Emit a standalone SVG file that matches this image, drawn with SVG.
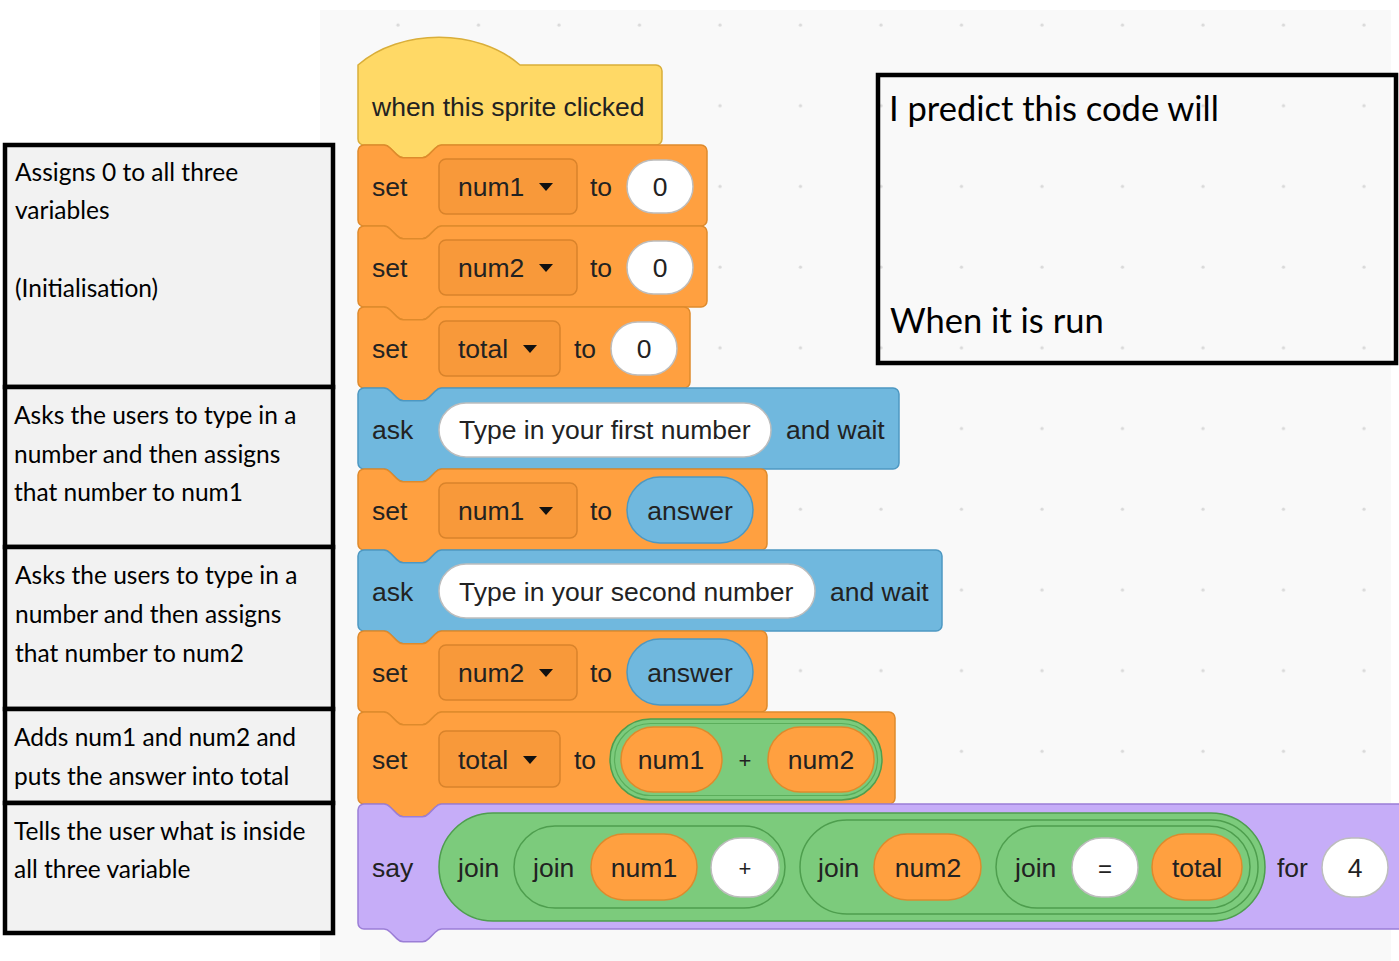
<svg xmlns="http://www.w3.org/2000/svg" width="1399" height="961" viewBox="0 0 1399 961">
<style>
.bt{font-family:"Liberation Sans",Arial,sans-serif;font-size:26.5px;fill:#222}
.mid{text-anchor:middle}
.note{font-family:Lato,"Open Sans",sans-serif;font-size:24.5px;fill:#000}
.pred{font-family:Lato,"Open Sans",sans-serif;font-size:34.5px;fill:#000}
.box{fill:#f2f2f2;stroke:#000;stroke-width:4.5}
.hat{fill:#FFD966;stroke:#D9AE3A;stroke-width:1.5}
.var{fill:#FFA040;stroke:#DE8A2C;stroke-width:1.5}
.dd{fill:#F8993A;stroke:#D9832B;stroke-width:1.5}
.sen{fill:#70B8DE;stroke:#4D98C2;stroke-width:1.5}
.op{fill:#7CCB7C;stroke:#4E9E4E;stroke-width:1.5}
.opin{fill:none;stroke:#5BAE5B;stroke-width:1.2}
.look{fill:#C6ADF8;stroke:#9B7ED6;stroke-width:1.5}
.inp{fill:#fff;stroke:#BDBDBD;stroke-width:1.5}
.tri{fill:#111}
</style>
<defs>
<pattern id="dots" patternUnits="userSpaceOnUse" x="358" y="-15" width="80.5" height="80.7">
<circle cx="40" cy="40" r="1.6" fill="#d9d9d9"/>
</pattern>
</defs>
<rect x="0" y="0" width="1399" height="961" fill="#ffffff"/>
<rect x="320" y="10" width="1071" height="951" fill="#f9f9f9"/>
<rect x="320" y="10" width="1071" height="951" fill="url(#dots)"/>

<g id="connectors"/>

<g id="hat-when-clicked">
<path class="hat" d="M358,65 c42,-37 120,-37 162,0 H656 a6,6 0 0 1 6,6 V139 a6,6 0 0 1 -6,6 H441.6 c-3.2,0 -4.8,1.6 -6.4,3.2 l-6.4,6.4 c-1.6,1.6 -3.2,3.2 -6.4,3.2 h-19.2 c-3.2,0 -4.8,-1.6 -6.4,-3.2 l-6.4,-6.4 c-1.6,-1.6 -3.2,-3.2 -6.4,-3.2 H364 a6,6 0 0 1 -6,-6 Z"/>
<text class="bt" x="372" y="116">when this sprite clicked</text>
</g>

<g id="set-num1-0">
<path class="var" d="M358,151 a6,6 0 0 1 6,-6 H384 c3.2,0 4.8,1.6 6.4,3.2 l6.4,6.4 c1.6,1.6 3.2,3.2 6.4,3.2 h19.2 c3.2,0 4.8,-1.6 6.4,-3.2 l6.4,-6.4 c1.6,-1.6 3.2,-3.2 6.4,-3.2 H701 a6,6 0 0 1 6,6 V220 a6,6 0 0 1 -6,6 H441.6 c-3.2,0 -4.8,1.6 -6.4,3.2 l-6.4,6.4 c-1.6,1.6 -3.2,3.2 -6.4,3.2 h-19.2 c-3.2,0 -4.8,-1.6 -6.4,-3.2 l-6.4,-6.4 c-1.6,-1.6 -3.2,-3.2 -6.4,-3.2 H364 a6,6 0 0 1 -6,-6 Z"/>
<text class="bt" x="372" y="196">set</text>
<rect class="dd" x="439" y="159" width="138" height="55" rx="7"/>
<text class="bt" x="458" y="196">num1</text>
<path class="tri" d="M539,183 h14 l-7,8 z"/>
<text class="bt" x="590" y="196">to</text>
<rect class="inp" x="627" y="160" width="66" height="53" rx="26.5"/>
<text class="bt mid" x="660" y="196">0</text>
</g>

<g id="set-num2-0">
<path class="var" d="M358,232 a6,6 0 0 1 6,-6 H384 c3.2,0 4.8,1.6 6.4,3.2 l6.4,6.4 c1.6,1.6 3.2,3.2 6.4,3.2 h19.2 c3.2,0 4.8,-1.6 6.4,-3.2 l6.4,-6.4 c1.6,-1.6 3.2,-3.2 6.4,-3.2 H701 a6,6 0 0 1 6,6 V301 a6,6 0 0 1 -6,6 H441.6 c-3.2,0 -4.8,1.6 -6.4,3.2 l-6.4,6.4 c-1.6,1.6 -3.2,3.2 -6.4,3.2 h-19.2 c-3.2,0 -4.8,-1.6 -6.4,-3.2 l-6.4,-6.4 c-1.6,-1.6 -3.2,-3.2 -6.4,-3.2 H364 a6,6 0 0 1 -6,-6 Z"/>
<text class="bt" x="372" y="277">set</text>
<rect class="dd" x="439" y="240" width="138" height="55" rx="7"/>
<text class="bt" x="458" y="277">num2</text>
<path class="tri" d="M539,264 h14 l-7,8 z"/>
<text class="bt" x="590" y="277">to</text>
<rect class="inp" x="627" y="241" width="66" height="53" rx="26.5"/>
<text class="bt mid" x="660" y="277">0</text>
</g>

<g id="set-total-0">
<path class="var" d="M358,313 a6,6 0 0 1 6,-6 H384 c3.2,0 4.8,1.6 6.4,3.2 l6.4,6.4 c1.6,1.6 3.2,3.2 6.4,3.2 h19.2 c3.2,0 4.8,-1.6 6.4,-3.2 l6.4,-6.4 c1.6,-1.6 3.2,-3.2 6.4,-3.2 H684 a6,6 0 0 1 6,6 V382 a6,6 0 0 1 -6,6 H441.6 c-3.2,0 -4.8,1.6 -6.4,3.2 l-6.4,6.4 c-1.6,1.6 -3.2,3.2 -6.4,3.2 h-19.2 c-3.2,0 -4.8,-1.6 -6.4,-3.2 l-6.4,-6.4 c-1.6,-1.6 -3.2,-3.2 -6.4,-3.2 H364 a6,6 0 0 1 -6,-6 Z"/>
<text class="bt" x="372" y="358">set</text>
<rect class="dd" x="439" y="321" width="121" height="55" rx="7"/>
<text class="bt" x="458" y="358">total</text>
<path class="tri" d="M523,345 h14 l-7,8 z"/>
<text class="bt" x="574" y="358">to</text>
<rect class="inp" x="611" y="322" width="66" height="53" rx="26.5"/>
<text class="bt mid" x="644" y="358">0</text>
</g>

<g id="ask-first">
<path class="sen" d="M358,394 a6,6 0 0 1 6,-6 H384 c3.2,0 4.8,1.6 6.4,3.2 l6.4,6.4 c1.6,1.6 3.2,3.2 6.4,3.2 h19.2 c3.2,0 4.8,-1.6 6.4,-3.2 l6.4,-6.4 c1.6,-1.6 3.2,-3.2 6.4,-3.2 H893 a6,6 0 0 1 6,6 V463 a6,6 0 0 1 -6,6 H441.6 c-3.2,0 -4.8,1.6 -6.4,3.2 l-6.4,6.4 c-1.6,1.6 -3.2,3.2 -6.4,3.2 h-19.2 c-3.2,0 -4.8,-1.6 -6.4,-3.2 l-6.4,-6.4 c-1.6,-1.6 -3.2,-3.2 -6.4,-3.2 H364 a6,6 0 0 1 -6,-6 Z"/>
<text class="bt" x="372" y="439">ask</text>
<rect class="inp" x="439" y="403" width="332" height="54" rx="27"/>
<text class="bt" x="459" y="439">Type in your first number</text>
<text class="bt" x="786" y="439">and wait</text>
</g>

<g id="set-num1-answer">
<path class="var" d="M358,475 a6,6 0 0 1 6,-6 H384 c3.2,0 4.8,1.6 6.4,3.2 l6.4,6.4 c1.6,1.6 3.2,3.2 6.4,3.2 h19.2 c3.2,0 4.8,-1.6 6.4,-3.2 l6.4,-6.4 c1.6,-1.6 3.2,-3.2 6.4,-3.2 H761 a6,6 0 0 1 6,6 V544 a6,6 0 0 1 -6,6 H441.6 c-3.2,0 -4.8,1.6 -6.4,3.2 l-6.4,6.4 c-1.6,1.6 -3.2,3.2 -6.4,3.2 h-19.2 c-3.2,0 -4.8,-1.6 -6.4,-3.2 l-6.4,-6.4 c-1.6,-1.6 -3.2,-3.2 -6.4,-3.2 H364 a6,6 0 0 1 -6,-6 Z"/>
<text class="bt" x="372" y="520">set</text>
<rect class="dd" x="439" y="483" width="138" height="55" rx="7"/>
<text class="bt" x="458" y="520">num1</text>
<path class="tri" d="M539,507 h14 l-7,8 z"/>
<text class="bt" x="590" y="520">to</text>
<rect class="sen" x="627" y="477" width="126" height="66" rx="33"/>
<text class="bt mid" x="690" y="520">answer</text>
</g>

<g id="ask-second">
<path class="sen" d="M358,556 a6,6 0 0 1 6,-6 H384 c3.2,0 4.8,1.6 6.4,3.2 l6.4,6.4 c1.6,1.6 3.2,3.2 6.4,3.2 h19.2 c3.2,0 4.8,-1.6 6.4,-3.2 l6.4,-6.4 c1.6,-1.6 3.2,-3.2 6.4,-3.2 H936 a6,6 0 0 1 6,6 V625 a6,6 0 0 1 -6,6 H441.6 c-3.2,0 -4.8,1.6 -6.4,3.2 l-6.4,6.4 c-1.6,1.6 -3.2,3.2 -6.4,3.2 h-19.2 c-3.2,0 -4.8,-1.6 -6.4,-3.2 l-6.4,-6.4 c-1.6,-1.6 -3.2,-3.2 -6.4,-3.2 H364 a6,6 0 0 1 -6,-6 Z"/>
<text class="bt" x="372" y="601">ask</text>
<rect class="inp" x="439" y="564" width="376" height="54" rx="27"/>
<text class="bt" x="459" y="601">Type in your second number</text>
<text class="bt" x="830" y="601">and wait</text>
</g>

<g id="set-num2-answer">
<path class="var" d="M358,637 a6,6 0 0 1 6,-6 H384 c3.2,0 4.8,1.6 6.4,3.2 l6.4,6.4 c1.6,1.6 3.2,3.2 6.4,3.2 h19.2 c3.2,0 4.8,-1.6 6.4,-3.2 l6.4,-6.4 c1.6,-1.6 3.2,-3.2 6.4,-3.2 H761 a6,6 0 0 1 6,6 V706 a6,6 0 0 1 -6,6 H441.6 c-3.2,0 -4.8,1.6 -6.4,3.2 l-6.4,6.4 c-1.6,1.6 -3.2,3.2 -6.4,3.2 h-19.2 c-3.2,0 -4.8,-1.6 -6.4,-3.2 l-6.4,-6.4 c-1.6,-1.6 -3.2,-3.2 -6.4,-3.2 H364 a6,6 0 0 1 -6,-6 Z"/>
<text class="bt" x="372" y="682">set</text>
<rect class="dd" x="439" y="645" width="138" height="55" rx="7"/>
<text class="bt" x="458" y="682">num2</text>
<path class="tri" d="M539,669 h14 l-7,8 z"/>
<text class="bt" x="590" y="682">to</text>
<rect class="sen" x="627" y="639" width="126" height="66" rx="33"/>
<text class="bt mid" x="690" y="682">answer</text>
</g>

<g id="set-total-sum">
<path class="var" d="M358,718 a6,6 0 0 1 6,-6 H384 c3.2,0 4.8,1.6 6.4,3.2 l6.4,6.4 c1.6,1.6 3.2,3.2 6.4,3.2 h19.2 c3.2,0 4.8,-1.6 6.4,-3.2 l6.4,-6.4 c1.6,-1.6 3.2,-3.2 6.4,-3.2 H889 a6,6 0 0 1 6,6 V798 a6,6 0 0 1 -6,6 H441.6 c-3.2,0 -4.8,1.6 -6.4,3.2 l-6.4,6.4 c-1.6,1.6 -3.2,3.2 -6.4,3.2 h-19.2 c-3.2,0 -4.8,-1.6 -6.4,-3.2 l-6.4,-6.4 c-1.6,-1.6 -3.2,-3.2 -6.4,-3.2 H364 a6,6 0 0 1 -6,-6 Z"/>
<text class="bt" x="372" y="769">set</text>
<rect class="dd" x="439" y="731" width="121" height="56" rx="7"/>
<text class="bt" x="458" y="769">total</text>
<path class="tri" d="M523,756 h14 l-7,8 z"/>
<text class="bt" x="574" y="769">to</text>
<rect class="op" x="610" y="719" width="272" height="81" rx="40.5"/>
<rect class="opin" x="614.5" y="723.5" width="263" height="72" rx="36"/>
<rect class="var" x="621" y="727" width="101" height="65" rx="32.5"/>
<text class="bt mid" x="671" y="769">num1</text>
<text class="bt mid" x="745" y="768" style="font-size:22px">+</text>
<rect class="var" x="768" y="727" width="106" height="65" rx="32.5"/>
<text class="bt mid" x="821" y="769">num2</text>
</g>

<g id="say-join">
<path class="look" d="M358,810 a6,6 0 0 1 6,-6 H384 c3.2,0 4.8,1.6 6.4,3.2 l6.4,6.4 c1.6,1.6 3.2,3.2 6.4,3.2 h19.2 c3.2,0 4.8,-1.6 6.4,-3.2 l6.4,-6.4 c1.6,-1.6 3.2,-3.2 6.4,-3.2 H1410 V929 H441.6 c-3.2,0 -4.8,1.6 -6.4,3.2 l-6.4,6.4 c-1.6,1.6 -3.2,3.2 -6.4,3.2 h-19.2 c-3.2,0 -4.8,-1.6 -6.4,-3.2 l-6.4,-6.4 c-1.6,-1.6 -3.2,-3.2 -6.4,-3.2 H364 a6,6 0 0 1 -6,-6 Z"/>
<text class="bt" x="372" y="877">say</text>
<rect class="op" x="439" y="813" width="826" height="108" rx="54"/>
<text class="bt" x="458" y="877">join</text>
<rect class="op" x="514" y="826" width="271" height="82" rx="41"/>
<text class="bt" x="533" y="877">join</text>
<rect class="var" x="591" y="834" width="106" height="66" rx="33"/>
<text class="bt mid" x="644" y="877">num1</text>
<rect class="inp" x="711" y="838" width="68" height="59" rx="29.5"/>
<text class="bt mid" x="745" y="876" style="font-size:22px">+</text>
<rect class="op" x="800" y="820" width="458" height="94" rx="47"/>
<text class="bt" x="818" y="877">join</text>
<rect class="var" x="874" y="834" width="107" height="66" rx="33"/>
<text class="bt mid" x="928" y="877">num2</text>
<rect class="op" x="996" y="826" width="254" height="82" rx="41"/>
<text class="bt" x="1015" y="877">join</text>
<rect class="inp" x="1072" y="838" width="66" height="59" rx="29.5"/>
<text class="bt mid" x="1105" y="877" style="font-size:24px">=</text>
<rect class="var" x="1152" y="834" width="90" height="66" rx="33"/>
<text class="bt mid" x="1197" y="877">total</text>
<text class="bt" x="1277" y="877">for</text>
<rect class="inp" x="1322" y="838" width="66" height="59" rx="29.5"/>
<text class="bt mid" x="1355" y="877">4</text>
</g>

<g id="note-init">
<rect class="box" x="5" y="145" width="328" height="242"/>
<text class="note" x="15" y="181">Assigns 0 to all three</text>
<text class="note" x="15" y="219">variables</text>
<text class="note" x="15" y="297">(Initialisation)</text>
</g>
<g id="note-num1">
<rect class="box" x="5" y="387" width="328" height="160"/>
<text class="note" x="14" y="424">Asks the users to type in a</text>
<text class="note" x="14" y="463">number and then assigns</text>
<text class="note" x="14" y="501">that number to num1</text>
</g>
<g id="note-num2">
<rect class="box" x="5" y="547" width="328" height="162"/>
<text class="note" x="15" y="584">Asks the users to type in a</text>
<text class="note" x="15" y="623">number and then assigns</text>
<text class="note" x="15" y="662">that number to num2</text>
</g>
<g id="note-add">
<rect class="box" x="5" y="709" width="328" height="94"/>
<text class="note" x="14" y="746">Adds num1 and num2 and</text>
<text class="note" x="14" y="785">puts the answer into total</text>
</g>
<g id="note-say">
<rect class="box" x="5" y="803" width="328" height="130"/>
<text class="note" x="14" y="840">Tells the user what is inside</text>
<text class="note" x="14" y="878">all three variable</text>
</g>

<g id="prediction">
<rect x="878" y="75" width="518" height="288" fill="none" stroke="#000" stroke-width="4.5"/>
<text class="pred" x="889" y="121">I predict this code will</text>
<text class="pred" x="890" y="333">When it is run</text>
</g>
</svg>
